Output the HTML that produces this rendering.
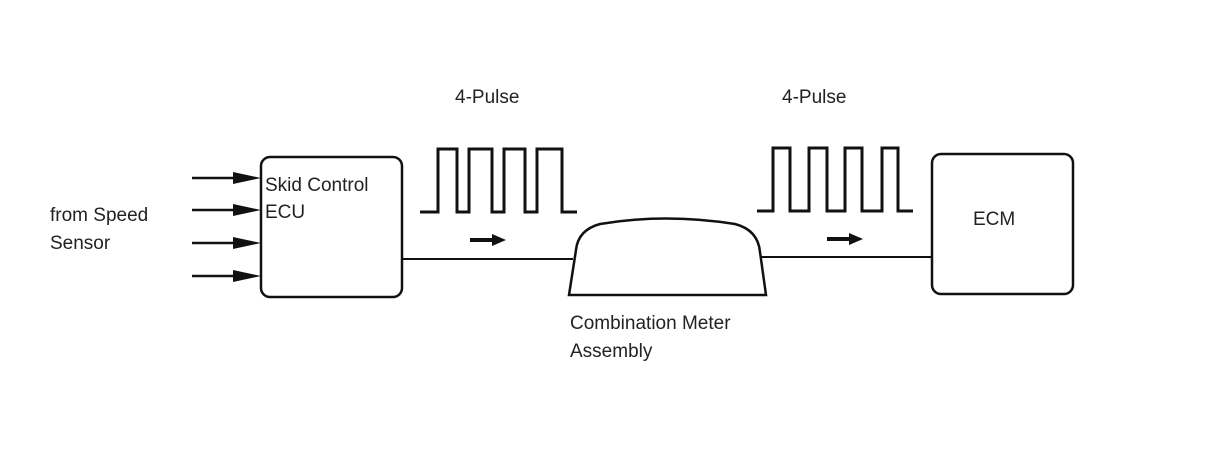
<!DOCTYPE html>
<html><head><style>body{margin:0;background:#fff}</style></head><body>
<svg width="1210" height="466" xmlns="http://www.w3.org/2000/svg" font-family="Liberation Sans, sans-serif" font-size="19" fill="#222">
<g stroke="#111" stroke-width="2.5" fill="none">
<rect x="261" y="157" width="141" height="140" rx="9"/>
<rect x="932" y="154" width="141" height="140" rx="9"/>
<line x1="192" y1="178" x2="240" y2="178"/>
<line x1="192" y1="210" x2="240" y2="210"/>
<line x1="192" y1="243" x2="240" y2="243"/>
<line x1="192" y1="276" x2="240" y2="276"/>
<line x1="402" y1="259" x2="573" y2="259" stroke-width="2"/>
<line x1="761" y1="257" x2="932" y2="257" stroke-width="2"/>
<polyline points="420,212 438,212 438,149 457,149 457,212 469,212 469,149 492,149 492,212 504,212 504,149 525,149 525,212 537,212 537,149 562,149 562,212 577,212" stroke-width="3"/>
<polyline points="757,211 773,211 773,148 790,148 790,211 809,211 809,148 827,148 827,211 845,211 845,148 862,148 862,211 882,211 882,148 898,148 898,211 913,211" stroke-width="3"/>
<path d="M569,295 L576,250 Q578,230 600,224 Q665,213 735,224 Q758,230 760,252 L766,295 Z"/>
<line x1="470" y1="240" x2="494" y2="240" stroke-width="4"/>
<line x1="827" y1="239" x2="851" y2="239" stroke-width="4"/>
</g>
<g fill="#111">
<polygon points="233,172 261,178 233,184"/>
<polygon points="233,204 261,210 233,216"/>
<polygon points="233,237 261,243 233,249"/>
<polygon points="233,270 261,276 233,282"/>
<polygon points="492,234 506,240 492,246"/>
<polygon points="849,233 863,239 849,245"/>
</g>
<text x="455" y="103">4-Pulse</text>
<text x="782" y="103">4-Pulse</text>
<text x="265" y="191">Skid Control</text>
<text x="265" y="218">ECU</text>
<text x="50" y="221">from Speed</text>
<text x="50" y="249">Sensor</text>
<text x="973" y="225">ECM</text>
<text x="570" y="329">Combination Meter</text>
<text x="570" y="357">Assembly</text>
</svg>
</body></html>
